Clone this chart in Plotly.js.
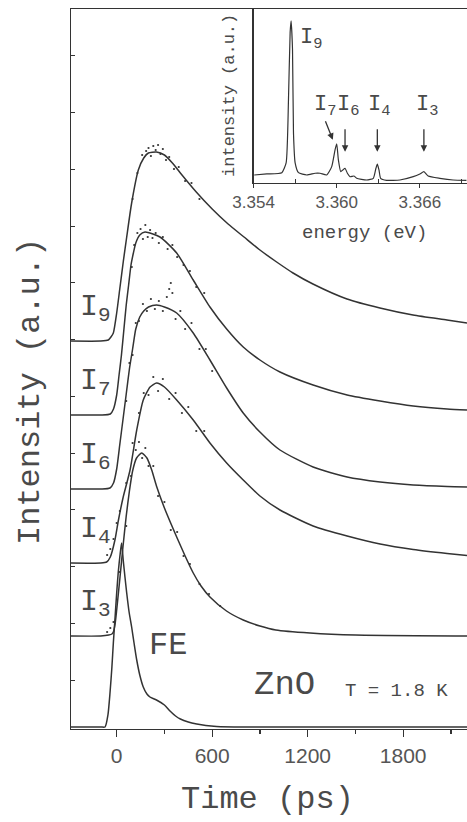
<!DOCTYPE html>
<html>
<head>
<meta charset="utf-8">
<script src="https://cdn.plot.ly/plotly-3.0.1.min.js"></script>
<style>html,body{margin:0;padding:0;background:#fff;}#chart{width:467px;height:822px;}</style>
</head>
<body>
<div id="chart"></div>
<script>
// ---- Main panel: time-resolved transients (time in ps, intensity in a.u.) ----
const curveNames = ["FE", "I3", "I4", "I6", "I7", "I9"];
const curveOffsets = [2, 93, 166, 240, 314, 388];

// fitted lines
const tFE = [-287, -100, -73, -55, -42, -30, -21, -10, 0, 10, 21, 31, 41, 52, 63, 78, 94, 110, 126, 145, 167, 190, 209, 250, 300, 335, 370, 400, 450, 503, 560, 628, 800, 1200, 1600, 2000, 2201];
const yFE = [0, 0, 0, 12, 34, 60, 84, 110, 134, 155, 172, 184, 167, 150, 134, 115, 100, 83, 67, 52, 40, 33, 30, 27, 22, 16, 11, 8, 5, 3, 1.5, 0.5, 0, 0, 0, 0, 0];

const tI3 = [-287, -100, -50, -30, -21, -10, 0, 21, 40, 60, 80, 100, 125, 157, 190, 220, 250, 300, 377, 430, 481, 530, 586, 690, 795, 900, 1000, 1215, 1500, 2201];
const yI3 = [0, 0, 1, 2, 4, 12, 26, 59, 90, 120, 145, 165, 178, 183, 178, 166, 150, 128, 99, 80, 63, 50, 39, 25, 16, 10, 6, 3, 1, 0];

const tI4 = [-287, -100, -63, -40, -11, 10, 41, 84, 126, 167, 210, 251, 300, 377, 481, 586, 691, 795, 900, 1026, 1234, 1448, 1655, 1863, 2076, 2201];
const yI4 = [0, 0, 1, 6, 23, 42, 66, 93, 133, 163, 176, 180, 176, 163, 143, 120, 100, 83, 67, 53, 37, 27, 19, 13.5, 9.5, 7.5];

const tI6 = [-287, -100, -42, -20, 0, 20, 40, 60, 80, 100, 120, 145, 170, 200, 251, 300, 377, 481, 586, 691, 795, 900, 1026, 1234, 1448, 1655, 1863, 2076, 2201];
const yI6 = [0, 0, 1, 6, 20, 45, 70, 95, 120, 140, 160, 172, 178, 182, 184, 182, 176, 156, 129, 101, 76, 57, 39, 22, 12, 7, 4, 2.5, 2];

const tI7 = [-287, -100, -40, -20, 0, 15, 30, 45, 60, 75, 90, 105, 120, 145, 178, 272, 377, 481, 586, 691, 795, 900, 1026, 1234, 1448, 1655, 1863, 2076, 2201];
const yI7 = [0, 0, 1, 6, 20, 40, 60, 85, 110, 130, 150, 162, 172, 180, 183, 178, 162, 135, 108, 86, 68, 55, 43, 30, 20, 14, 9, 6, 5];

const tI9 = [-287, -100, -53, -36, -21, 0, 21, 42, 63, 94, 136, 170, 199, 250, 300, 350, 400, 500, 600, 700, 800, 900, 1005, 1108, 1233, 1447, 1654, 1862, 2075, 2201];
const yI9 = [0, 0, 1, 4, 8, 28, 54, 80, 104, 138, 171, 183, 188, 189, 186, 178, 168, 149, 132, 117, 104, 91, 79, 68, 57, 42, 33, 26, 21, 18];

// scattered measured points (read near the peaks, where the scatter is visible)
const dI3t = [-60, -40, -20, 20, 60, 90, 120, 140, 160, 180, 200, 230, 260, 300, 340, 380, 420, 460, 520, 580, 650];
const dI3y = [4, 8, 14, 64, 110, 160, 186, 194, 178, 188, 170, 170, 140, 134, 106, 104, 80, 72, 52, 42, 30];
const dI4t = [-60, -40, -20, 0, 20, 60, 100, 140, 170, 200, 230, 260, 290, 330, 370, 410, 450, 500, 550];
const dI4y = [8, 14, 24, 40, 52, 80, 120, 150, 170, 168, 186, 172, 184, 164, 170, 150, 156, 132, 132];
const dI6t = [60, 80, 100, 120, 140, 165, 190, 215, 240, 265, 290, 315, 330, 340, 350, 370, 400, 430, 470, 520, 560, 600];
const dI6y = [88, 126, 134, 166, 168, 185, 178, 190, 180, 188, 178, 192, 200, 206, 196, 170, 178, 160, 166, 140, 140, 118];
const dI7t = [95, 110, 130, 150, 165, 180, 195, 210, 225, 245, 265, 290, 320, 350, 380, 420, 460, 500, 550];
const dI7y = [148, 170, 182, 186, 176, 190, 178, 185, 177, 182, 172, 178, 166, 170, 158, 150, 144, 128, 122];
const dI9t = [100, 130, 160, 185, 200, 215, 230, 245, 260, 275, 290, 310, 330, 360, 390, 430, 470, 520];
const dI9y = [142, 168, 186, 190, 193, 185, 195, 191, 196, 187, 192, 181, 184, 172, 174, 160, 158, 142];

const curveTimes = [tFE, tI3, tI4, tI6, tI7, tI9];
const curveValues = [yFE, yI3, yI4, yI6, yI7, yI9];
const dotTimes = [null, dI3t, dI4t, dI6t, dI7t, dI9t];
const dotValues = [null, dI3y, dI4y, dI6y, dI7y, dI9y];
const curveLabels = ["", "I<sub>3</sub>", "I<sub>4</sub>", "I<sub>6</sub>", "I<sub>7</sub>", "I<sub>9</sub>"];

// ---- Inset: PL spectrum (energy in eV) ----
const specE = [3.35405, 3.35496, 3.35604, 3.35635, 3.35652, 3.35664, 3.35671, 3.35681, 3.35688, 3.35700, 3.35724, 3.35784, 3.35844, 3.35880, 3.35928, 3.35964, 3.35988, 3.36000, 3.36012, 3.36029, 3.36044, 3.36060, 3.36077, 3.36096, 3.36125, 3.36144, 3.36216, 3.36264, 3.36283, 3.36293, 3.36305, 3.36317, 3.36360, 3.36456, 3.36552, 3.36600, 3.36629, 3.36660, 3.36744, 3.36840, 3.36936];
const specI = [7.5, 8.5, 9.8, 19.5, 82.5, 149.5, 160.8, 132.5, 49.5, 19.5, 9.8, 7.5, 9.2, 9.2, 7.5, 15.8, 32.5, 38.5, 22.5, 10.8, 12.5, 14.2, 9.2, 5.8, 6.5, 4.2, 2.5, 4.2, 14.2, 18.2, 12.5, 4.2, 2.2, 2.5, 5.8, 8.5, 10.8, 6.5, 4.2, 2.5, 2.2];

const insetLineNames = ["I<sub>9</sub>", "I<sub>7</sub>", "I<sub>6</sub>", "I<sub>4</sub>", "I<sub>3</sub>"];
const insetLineEnergy = [3.35815, 3.35916, 3.36082, 3.36305, 3.36651];
const insetArrowEnergy = [null, 3.35972, 3.3606, 3.36293, 3.36629];

const xTicks = [0, 600, 1200, 1800];
const eTicks = [3.354, 3.360, 3.366];

const ink = "#333";
const txt = "#4a4a4a";
const mono = "Liberation Mono, Courier New, monospace";
const sans = "Liberation Sans, Arial, sans-serif";

const traces = [];
curveNames.forEach((n, i) => {
  traces.push({
    x: curveTimes[i],
    y: curveValues[i].map(v => v + curveOffsets[i]),
    type: "scatter", mode: "lines", name: n,
    line: {color: ink, width: 1.5, shape: "spline", smoothing: 0.6},
    xaxis: "x", yaxis: "y", hoverinfo: "skip"
  });
  if (dotTimes[i]) {
    traces.push({
      x: dotTimes[i],
      y: dotValues[i].map(v => v + curveOffsets[i]),
      type: "scatter", mode: "markers", name: n + " data",
      marker: {color: ink, size: 2.2, symbol: "circle"},
      xaxis: "x", yaxis: "y", hoverinfo: "skip"
    });
  }
});
traces.push({
  x: specE, y: specI, type: "scatter", mode: "lines", name: "spectrum",
  line: {color: ink, width: 1.2, shape: "spline", smoothing: 0.5},
  xaxis: "x2", yaxis: "y2", hoverinfo: "skip"
});

const ann = [];
function addText(o) {
  ann.push(Object.assign({showarrow: false, xanchor: "center", yanchor: "middle"}, o));
}
curveLabels.forEach((lab, i) => {
  if (!lab) return;
  addText({x: -130, y: curveOffsets[i] + 33, xref: "x", yref: "y", text: lab,
    font: {family: mono, size: 30, color: txt}});
});
addText({x: 322, y: 84, xref: "x", yref: "y", text: "FE", font: {family: mono, size: 32, color: txt}});
addText({x: 1057, y: 44, xref: "x", yref: "y", text: "ZnO", font: {family: mono, size: 34, color: txt}});
addText({x: 1761, y: 38, xref: "x", yref: "y", text: "T = 1.8 K", font: {family: mono, size: 19, color: txt}});
addText({x: 0.495, y: -0.0986, xref: "paper", yref: "paper", text: "Time (ps)", font: {family: mono, size: 32, color: txt}});
addText({x: -0.1035, y: 0.468, xref: "paper", yref: "paper", text: "Intensity (a.u.)", textangle: -90,
  font: {family: mono, size: 32, color: txt}});
addText({x: 0.4015, y: 0.8806, xref: "paper", yref: "paper", text: "intensity (a.u.)", textangle: -90,
  font: {family: mono, size: 17, color: txt}});
addText({x: 0.7424, y: 0.6889, xref: "paper", yref: "paper", text: "energy (eV)", font: {family: mono, size: 19, color: txt}});
insetLineNames.forEach((lab, i) => {
  addText({x: insetLineEnergy[i], y: i === 0 ? 142.5 : 76.5, xref: "x2", yref: "y2", text: lab,
    font: {family: mono, size: 22, color: txt}});
  if (insetArrowEnergy[i] !== null) {
    const diag = i === 1;
    ann.push({x: insetArrowEnergy[i], y: diag ? 42.5 : 30.5, xref: "x2", yref: "y2", text: "",
      showarrow: true, arrowhead: 2, arrowsize: 1, arrowwidth: 1.3, arrowcolor: ink,
      ax: diag ? -8 : 0, ay: diag ? -20 : -24, standoff: 0});
  }
});

const layout = {
  width: 467, height: 822,
  margin: {l: 71, r: 0, t: 9, b: 93},
  paper_bgcolor: "#fff", plot_bgcolor: "#fff",
  showlegend: false,
  xaxis: {
    domain: [0, 1], range: [-287, 2201], tickmode: "array", tickvals: xTicks,
    ticks: "outside", ticklen: 7, tickwidth: 1.2, tickcolor: ink,
    minor: {tickmode: "linear", tick0: 300, dtick: 600, ticks: "outside", ticklen: 4, tickcolor: ink, showgrid: false},
    showline: true, linecolor: ink, linewidth: 1.3, mirror: true,
    showgrid: false, zeroline: false,
    tickfont: {family: sans, size: 21, color: "#555"}
  },
  yaxis: {
    domain: [0, 1], range: [0, 720], tickmode: "linear", tick0: 49, dtick: 56.75,
    ticks: "inside", ticklen: 4, tickcolor: ink, showticklabels: false,
    showline: true, linecolor: ink, linewidth: 1.3,
    showgrid: false, zeroline: false
  },
  xaxis2: {
    domain: [0.461, 1], anchor: "y2", range: [3.354, 3.3694],
    tickmode: "array", tickvals: eTicks, ticktext: ["3.354", "3.360", "3.366"],
    ticks: "outside", ticklen: 4, tickcolor: ink,
    minor: {tickmode: "linear", tick0: 3.357, dtick: 0.006, ticks: "inside", ticklen: 4, tickcolor: ink, showgrid: false},
    showline: true, linecolor: ink, linewidth: 1.3,
    showgrid: false, zeroline: false,
    tickfont: {family: sans, size: 17, color: "#555"}
  },
  yaxis2: {
    domain: [0.759, 1], anchor: "x2", range: [0, 172.5],
    showticklabels: false, ticks: "", showline: true, linecolor: ink, linewidth: 1.3,
    showgrid: false, zeroline: false
  },
  annotations: ann
};

Plotly.newPlot("chart", traces, layout, {staticPlot: true, displayModeBar: false});
</script>
</body>
</html>
